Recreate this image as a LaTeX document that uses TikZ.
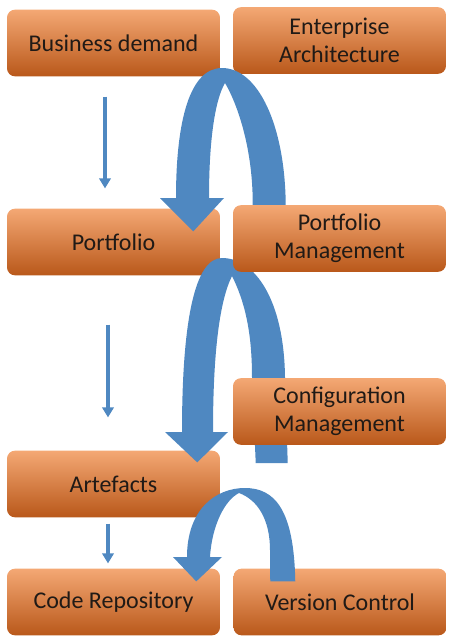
\documentclass[tikz,border=0pt]{standalone}
\usepackage{fontspec}
\setmainfont{Carlito}
\usetikzlibrary{arrows.meta,positioning,calc}
\definecolor{OrangeTop}{HTML}{F4A874}
\definecolor{OrangeMid}{HTML}{EE8843}
\definecolor{OrangeLow}{HTML}{B9581A}
\definecolor{Steel}{HTML}{4F88C1}
\definecolor{Ink}{HTML}{201A16}
\pgfdeclarelayer{back}
\pgfdeclarelayer{mid}
\pgfsetlayers{back,mid,main}
\tikzset{
  block/.style={
    rounded corners=6pt,top color=OrangeTop,middle color=OrangeMid,bottom color=OrangeLow,
    minimum width=159.75pt,minimum height=50pt,inner sep=0pt,align=center,
    font=\fontsize{18}{21}\selectfont,text=Ink
  },
  link/.style={-{Triangle[width=8.5pt,length=7.5pt]},line width=3pt,draw=Steel},
  swing/.style={fill=Steel}
}
\begin{document}
\begin{tikzpicture}[x=0.75pt,y=-0.75pt]
  \useasboundingbox (0,0) rectangle (454,644);
  % left column
  \begin{pgfonlayer}{back}
    \node[block] (demand) at (113.5,43) {Business demand};
    \node[block] (portfolio) at (113.5,242) {Portfolio};
    \node[block] (artefacts) at (113.5,484) {Artefacts};
    \node[block] (repo) at (113.5,602) {Code Repository};
  \end{pgfonlayer}
  \draw[link] ($(demand.south)+(-8.5,20)$) -- ($(portfolio.north)+(-8.5,-20)$);
  \draw[link] ($(portfolio.south)+(-5.5,49)$) -- ($(artefacts.north)+(-5.5,-33)$);
  \draw[link] ($(artefacts.south)+(-5.5,6)$) -- ($(repo.north)+(-5.5,-5)$);
  % right column
  \node[block] (enterprise) at (339.5,40.5) {Enterprise\\Architecture};
  \node[block] (pm) at (339.5,238.5) {Portfolio\\Management};
  \node[block] (config) at (339.5,411.5) {Configuration\\Management};
  \node[block,right=9.75pt of repo] (version) {Version Control};
  % curved arrows
  \begin{pgfonlayer}{mid}
    \fill[swing] ($(config.south west)+(55,18)$) -- (285,377) .. controls (284,300) and (255,258) .. (222,258)
      .. controls (195,258) and (182,320) .. (182,432) -- (165,432) -- ($(artefacts.north east)+(-23,12)$)
      -- (228,432) -- (213,432) .. controls (213,350) and (220,300) .. (232,276)
      .. controls (244,300) and (252,330) .. (252,377) -- ($(config.south west)+(23,18)$) -- cycle;
  \end{pgfonlayer}
  \fill[swing] ($(pm.north west)+(53,0)$) .. controls (285,125) and (258,68) .. (222,68)
    .. controls (190,68) and (176,120) .. (176,198) -- (160,198) -- ($(portfolio.north east)+(-27,23)$)
    -- (224,198) -- (209,198) .. controls (209,140) and (215,100) .. (225,83)
    .. controls (238,105) and (253,150) .. ($(pm.north west)+(20,0)$) -- cycle;
  \fill[swing] ($(version.north west)+(62,13)$) .. controls (294,510) and (275,488) .. (245,488)
    .. controls (215,488) and (187,510) .. (187,557) -- (173,557) -- ($(repo.north east)+(-24,13)$)
    -- (222,557) -- (210,557) .. controls (212,525) and (225,500) .. (239,493)
    .. controls (258,500) and (270,520) .. (270,550) -- ($(version.north west)+(37,13)$) -- cycle;
\end{tikzpicture}
\end{document}
